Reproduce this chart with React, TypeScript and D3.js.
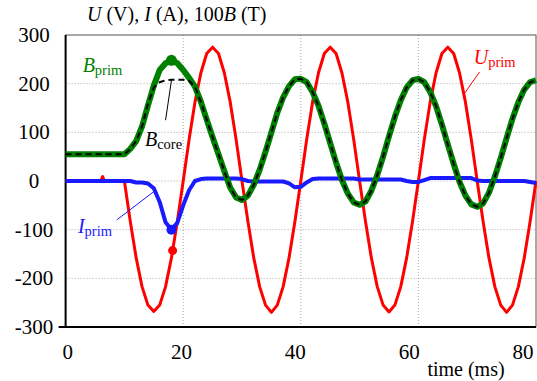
import React from 'react';
import * as d3 from 'd3';

// time axis in ms
const time = d3.range(0, 81);

// primary voltage (V) - own time base because of the small blip before switch-on
const uTime = [0, 6, 6.3, 6.6, ...d3.range(10, 81)];
const uPrim = [
  0, 0, 9, 0,
  0, -83, -158, -217, -255, -268, -255, -217, -158, -83,
  0, 85, 162, 222, 262, 275, 262, 222, 162, 85,
  0, -83, -158, -217, -255, -270, -255, -217, -158, -83,
  0, 85, 162, 222, 262, 275, 262, 222, 162, 85,
  0, -83, -158, -217, -255, -269, -255, -217, -158, -83,
  0, 85, 162, 222, 262, 275, 262, 222, 162, 85,
  0, -83, -158, -217, -255, -270, -255, -217, -158, -83,
  0,
];

// primary current (A)
const iPrim = [
  0, 0, 0, 0, 0, 0, 0, 0, 0, 0,
  0, 0, -3, -3, -5, -15, -43, -85, -100, -86,
  -50, -19, 0, 4, 5, 5, 5, 5, 5, 5,
  4, 0, -1, -1, -1, -1, -1, -1, -5, -13,
  -12, -3, 4, 5, 5, 5, 5, 5, 5, 5,
  3, 3, 3, 3, 3, 3, 3, 3, 0, -2,
  -2, 2, 6, 6, 6, 6, 6, 6, 6, 6,
  1, 0, 0, 0, 0, 0, 0, 0, 0, -2,
  -4,
];

// 100 x flux density (T)
const bPrim = [
  55, 55, 55, 55, 55, 55, 55, 55, 55, 55,
  55, 66, 82, 112, 155, 196, 228, 242, 248, 242,
  228, 212, 194, 163, 126, 90, 55, 20, -14, -34,
  -39, -30, -8, 23, 60, 100, 140, 172, 195, 209,
  210, 203, 183, 155, 118, 78, 38, 2, -26, -44,
  -49, -42, -20, 12, 50, 92, 132, 166, 192, 207,
  210, 203, 183, 154, 116, 75, 35, -2, -30, -48,
  -53, -46, -24, 9, 47, 88, 128, 162, 188, 203,
  207,
];

const bCore = [
  55, 55, 55, 55, 55, 55, 55, 55, 55, 55,
  55, 66, 82, 112, 158, 192, 203, 207, 208, 208,
  208, 206, 194, 163, 126, 90, 55, 20, -14, -34,
  -39, -30, -8, 23, 60, 100, 140, 172, 195, 209,
  210, 203, 183, 155, 118, 78, 38, 2, -26, -44,
  -49, -42, -20, 12, 50, 92, 132, 166, 192, 207,
  210, 203, 183, 154, 116, 75, 35, -2, -30, -48,
  -53, -46, -24, 9, 47, 88, 128, 162, 188, 203,
  207,
];

const xTicks = [0, 20, 40, 60, 80];
const yTicks = [300, 200, 100, 0, -100, -200, -300];
const xGrid = [20, 40, 60];
const yGrid = [200, 100, 0, -100, -200];

// marked points at the saturation instant
const markers = [
  { t: 18, v: 248, color: '#008000', r: 5.5 },
  { t: 18, v: -100, color: '#1a1aff', r: 5 },
  { t: 18.2, v: -143, color: '#ff0000', r: 4.5 },
];

const FONT = "'Liberation Serif', 'Times New Roman', serif";
const txt = { fontFamily: FONT };

const App = () => {
  const width = 537;
  const height = 381;

  const x = d3.scaleLinear().domain([0, 80]).range([65.6, 536]);
  // tick labels in the original sit slightly left of their grid lines
  const xLabel = d3.scaleLinear().domain([0, 80]).range([67.7, 523]);
  const y = d3.scaleLinear().domain([-300, 300]).range([327, 35]);

  const line = d3.line<number>()
    .x((_, i) => x(time[i]))
    .y(d => y(d));
  const uLine = d3.line<number>()
    .x((_, i) => x(uTime[i]))
    .y(d => y(d));

  const annotations = [
    { main: 'B', sub: 'prim', t: 2.9, v: 224, color: '#008000', lead: null },
    { main: 'B', sub: 'core', t: 13.5, v: 72, color: '#000', lead: [17, 125, 18, 207] },
    { main: 'U', sub: 'prim', t: 69.4, v: 240, color: '#ff0000', lead: [70.4, 224, 67.9, 181] },
    { main: 'I', sub: 'prim', t: 2.1, v: -107, color: '#1a1aff', lead: [8.7, -80, 15.2, -20] },
  ];

  return (
    <svg width={width} height={height} style={{ position: 'absolute', left: 0, top: 0 }}>
      <rect x={0} y={0} width={width} height={height} fill="#fff" />

      {/* grid */}
      {yGrid.map(v => (
        <line key={'gy' + v} x1={x(0)} x2={x(80)} y1={y(v)} y2={y(v)}
          stroke="#a8a8a8" strokeWidth={1} strokeDasharray="1,2" />
      ))}
      {xGrid.map(t => (
        <line key={'gx' + t} x1={x(t)} x2={x(t)} y1={y(300)} y2={y(-300)}
          stroke="#a8a8a8" strokeWidth={1} strokeDasharray="1,2" />
      ))}

      {/* frame */}
      <rect x={x(0)} y={y(300)} width={x(80) - x(0)} height={y(-300) - y(300)}
        fill="none" stroke="#555" strokeWidth={1} />
      <line x1={x(0)} x2={x(0)} y1={y(300)} y2={y(-300)} stroke="#000" strokeWidth={2} />
      <line x1={x(0) - 7} x2={x(80)} y1={y(-300)} y2={y(-300)} stroke="#000" strokeWidth={2} />

      {/* series */}
      <path d={uLine(uPrim) || ''} fill="none" stroke="#ff0000" strokeWidth={3} strokeLinejoin="round" />
      <path d={line(iPrim) || ''} fill="none" stroke="#1a1aff" strokeWidth={4} strokeLinejoin="round" />
      <path d={line(bPrim) || ''} fill="none" stroke="#008000" strokeWidth={6} strokeLinejoin="round" />
      <path d={line(bCore) || ''} fill="none" stroke="#000" strokeWidth={2} strokeDasharray="6,4" />

      {markers.map((m, i) => (
        <circle key={'m' + i} cx={x(m.t)} cy={y(m.v)} r={m.r} fill={m.color} />
      ))}

      {/* annotations */}
      {annotations.map((a, i) => (
        <g key={'a' + i}>
          {a.lead && (
            <line x1={x(a.lead[0])} y1={y(a.lead[1])} x2={x(a.lead[2])} y2={y(a.lead[3])}
              stroke={a.color} strokeWidth={1} />
          )}
          <text x={x(a.t)} y={y(a.v)} fill={a.color} fontSize={20} style={txt}>
            <tspan fontStyle="italic">{a.main}</tspan>
            <tspan fontSize={14.5} dy={3}>{a.sub}</tspan>
          </text>
        </g>
      ))}

      {/* axis labels */}
      {yTicks.map(v => (
        <text key={'yt' + v} x={34} y={y(v) + 7} textAnchor="middle" fontSize={21} style={txt}>{v}</text>
      ))}
      {xTicks.map(t => (
        <text key={'xt' + t} x={xLabel(t)} y={359} textAnchor="middle" fontSize={21} style={txt}>{t}</text>
      ))}
      <text x={466} y={376} textAnchor="middle" fontSize={20} style={txt}>time (ms)</text>

      <text x={87} y={21} fontSize={20} style={txt}>
        <tspan fontStyle="italic">U</tspan>{' (V), '}
        <tspan fontStyle="italic">I</tspan>{' (A), 100'}
        <tspan fontStyle="italic">B</tspan>{' (T)'}
      </text>
    </svg>
  );
};

export default App;
